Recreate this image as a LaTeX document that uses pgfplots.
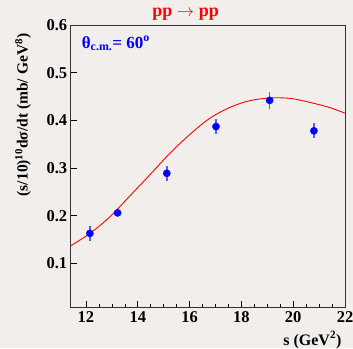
\documentclass[border=0pt]{standalone}
\usepackage{pgfplots}
\pgfplotsset{compat=1.18}
\usepackage{fontspec}
\setmainfont{Liberation Serif}
\usetikzlibrary{backgrounds}
\definecolor{bgcol}{RGB}{242,238,235}
\definecolor{errblue}{RGB}{90,90,255}
\definecolor{framecol}{RGB}{50,50,50}
\begin{document}
\begin{tikzpicture}
\begin{axis}[
  at={(0,0)}, anchor=south west,
  scale only axis, width=274.3pt, height=282.3pt,
  xmin=11.41, xmax=22, ymin=0.008, ymax=0.6,
  xtick={12,14,...,22}, ytick={0.1,0.2,...,0.6},
  minor x tick num=3,
  tick pos=left, tick align=inside,
  major tick length=6pt, minor tick length=3pt,
  every tick/.style={black, line width=0.6pt},
  axis line style={framecol, line width=1pt},
  /pgf/number format/assume math mode=true,
  ticklabel style={font=\bfseries\fontsize{16.5}{16.5}\selectfont},
  yticklabel style={/pgf/number format/.cd, fixed, precision=1, fixed zerofill},
  xticklabel style={yshift=-1pt},
  ylabel={(s/10)\textsuperscript{10}dσ/dt (mb/ GeV\textsuperscript{8})},
  ylabel style={font=\bfseries\fontsize{15.5}{15.5}\selectfont, at={(axis description cs:-0.174,0.982)}, anchor=east, rotate=0},
  xlabel={s (GeV\textsuperscript{2})},
  xlabel style={font=\bfseries\fontsize{16}{16}\selectfont, at={(axis description cs:1,-0.073)}, anchor=north east},
  clip=false,
]
\addplot[red, line width=0.9pt, smooth, tension=0.55] coordinates {
(11.41,0.137) (12.15,0.163) (12.93,0.198) (13.70,0.242) (14.47,0.286)
(15.24,0.331) (16.00,0.370) (16.77,0.404) (17.55,0.427) (18.30,0.441)
(19.10,0.447) (19.90,0.446) (20.70,0.437) (21.40,0.427) (22.00,0.415)
};
\addplot[only marks, mark=*, mark size=3.6pt, color=blue, mark options={fill=blue, draw=blue},
  error bars/.cd, y dir=both, y explicit, error bar style={errblue, line width=1.5pt}, error mark=none]
  coordinates {
(12.15,0.163) +- (0,0.0154)
(13.22,0.206) +- (0,0.0094)
(15.12,0.289) +- (0,0.016)
(17.02,0.387) +- (0,0.0154)
(19.09,0.442) +- (0,0.018)
(20.80,0.378) +- (0,0.016)
};
\node[font=\bfseries\fontsize{18}{18}\selectfont, text=red, anchor=base, inner sep=0pt] at (axis description cs:0.419,1.030) {pp $\rightarrow$ pp};
\node[font=\bfseries\fontsize{17}{17}\selectfont, text=blue, anchor=base west, inner sep=0pt] at (axis description cs:0.04,0.918) {θ\textsubscript{c.m.}= 60\textsuperscript{o}};
\end{axis}
\pgfresetboundingbox
\path[use as bounding box] (-70.7pt,-40.7pt) rectangle (282.3pt,307.3pt);
\begin{pgfonlayer}{background}
\fill[bgcol] (-70.7pt,-40.7pt) rectangle (282.3pt,307.3pt);
\end{pgfonlayer}
\end{tikzpicture}
\end{document}
